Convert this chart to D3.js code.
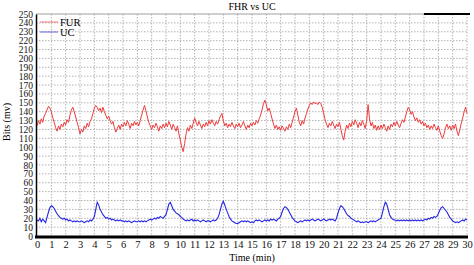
<!DOCTYPE html>
<html>
<head>
<meta charset="utf-8">
<script src="https://cdn.jsdelivr.net/npm/d3@7"></script>
<style>
  body { margin: 0; background: #fff; }
  text { font-family: "Liberation Serif", "DejaVu Serif", serif; }
</style>
</head>
<body>
<svg id="chart" width="474" height="265"></svg>
<script>
// samples every 0.1 min, 0 .. 30
let step = 0.1
let fhr = [
  124,130,126,132,128,135,138,142,146,144,
  140,133,128,122,118,124,120,126,123,128,
  125,131,128,136,142,145,140,134,128,122,
  115,120,117,124,121,127,123,129,132,138,
  144,147,145,141,144,139,145,140,136,132,
  135,130,126,129,122,117,121,125,120,126,
  123,128,124,130,126,121,127,124,129,125,
  128,124,130,136,142,147,141,134,128,124,
  120,125,122,127,123,118,124,121,126,122,
  127,123,129,125,120,126,122,118,124,115,
  108,100,95,104,115,122,118,125,121,127,
  133,128,124,129,125,121,126,123,128,124,
  130,126,131,127,124,129,126,131,135,138,
  130,124,127,122,126,123,128,124,121,126,
  123,127,122,125,129,124,120,125,122,127,
  124,128,125,130,127,132,136,142,149,153,
  148,141,144,138,132,126,121,125,120,123,
  119,124,121,118,123,120,126,122,128,134,
  140,144,136,128,124,130,126,133,138,143,
  147,150,148,151,149,150,148,151,149,145,
  138,131,126,122,127,124,129,125,121,126,
  123,128,120,113,108,118,125,121,127,123,
  129,125,131,127,122,128,124,130,126,121,
  130,148,132,124,128,121,125,119,124,120,
  125,121,126,122,118,124,120,126,123,128,
  124,129,125,122,127,131,128,134,140,145,
  142,137,140,134,130,133,128,131,126,129,
  124,127,122,125,120,124,121,126,122,119,
  124,118,113,110,115,122,126,121,124,119,
  125,121,126,118,113,120,127,133,140,145,
  138
]
let uc = [
  18,17,20,16,19,17,15,21,27,32,
  34,33,31,28,25,23,21,20,19,20,
  18,19,17,18,17,16,17,16,17,16,
  16,17,16,15,16,17,16,18,17,19,
  22,30,38,35,30,27,24,22,20,21,
  19,20,18,19,18,17,18,17,18,17,
  17,16,17,16,17,16,15,16,17,16,
  16,17,16,17,16,17,16,17,18,19,
  18,19,20,19,21,20,22,21,20,22,
  24,30,36,38,34,30,28,26,25,24,
  22,21,19,18,17,18,17,18,19,17,
  18,17,18,17,16,17,18,17,16,17,
  17,16,17,18,17,18,20,24,30,36,
  39,35,30,26,22,19,17,16,15,14,
  14,15,16,17,16,17,16,17,16,15,
  16,15,17,18,17,18,17,16,17,18,
  17,18,17,19,18,19,18,17,19,20,
  22,27,31,33,32,30,27,24,21,19,
  17,16,15,16,17,16,17,18,17,18,
  17,18,19,18,17,18,19,18,17,18,
  19,18,17,18,19,18,19,18,17,20,
  26,31,34,33,31,28,25,23,22,20,
  19,18,17,16,17,16,15,16,15,16,
  16,15,16,17,16,17,16,17,18,19,
  20,26,33,38,36,30,24,21,19,18,
  18,17,18,17,18,17,18,17,18,17,
  18,17,18,17,18,17,18,17,18,17,
  18,19,18,20,19,21,20,22,21,22,
  25,29,32,33,31,29,27,24,21,19,
  17,16,15,16,15,16,17,18,17,19,
  18
]
let xTicks = d3.range(0, 31)
let yTicks = d3.range(0, 251, 10)
let seriesNames = ['FUR', 'UC']
let seriesColors = ['#ee3b3b', '#2424e6']

let svg = d3.select('#chart')
let x = d3.scaleLinear([0, 30], [37, 467])
let y = d3.scaleLinear([0, 250], [236, 14])

// grid
svg.append('g').selectAll('line').data(xTicks.slice(1)).join('line')
  .attr('x1', d => x(d)).attr('x2', d => x(d))
  .attr('y1', y(250)).attr('y2', y(0))
  .attr('stroke', '#a0a0a0').attr('stroke-width', 0.8).attr('stroke-dasharray', '1.5,1.5')
svg.append('g').selectAll('line').data(yTicks.slice(1, -1)).join('line')
  .attr('x1', x(0) - 1).attr('x2', x(30))
  .attr('y1', d => y(d)).attr('y2', d => y(d))
  .attr('stroke', '#a0a0a0').attr('stroke-width', 0.8).attr('stroke-dasharray', '1.5,1.5')

// frame
svg.append('line').attr('x1', 36).attr('x2', 470).attr('y1', y(250)).attr('y2', y(250))
  .attr('stroke', '#888').attr('stroke-width', 0.8)
svg.append('line').attr('x1', 424).attr('x2', 470).attr('y1', y(250)).attr('y2', y(250))
  .attr('stroke', '#000').attr('stroke-width', 2)

// series
let line = d3.line().x((d, i) => x(i * step)).y(d => y(d))
svg.append('path').datum(fhr).attr('d', line)
  .attr('fill', 'none').attr('stroke', seriesColors[0]).attr('stroke-width', 1)
svg.append('path').datum(uc).attr('d', line)
  .attr('fill', 'none').attr('stroke', seriesColors[1]).attr('stroke-width', 1.1)

// axes
let yAxis = d3.axisLeft(y).tickValues(yTicks).tickSize(0).tickPadding(3)
let gy = svg.append('g').attr('transform', 'translate(36,0)').call(yAxis)
gy.select('.domain').attr('stroke', '#000').attr('stroke-width', 1.5)
gy.selectAll('text').attr('font-size', 9.5).attr('font-family', '"Liberation Serif", serif').attr('fill', '#111')

let xAxis = d3.axisBottom(x).tickValues(xTicks).tickSize(0).tickPadding(4)
let gx = svg.append('g').attr('transform', 'translate(0,237)').call(xAxis)
gx.select('.domain').attr('stroke', '#000').attr('stroke-width', 3).attr('d', 'M35,0H468')
gx.selectAll('text').attr('font-size', 10.5).attr('font-family', '"Liberation Serif", serif').attr('fill', '#111')

// titles
svg.append('text').attr('x', 252).attr('y', 10).attr('text-anchor', 'middle')
  .attr('font-size', 10).text('FHR vs UC')
svg.append('text').attr('x', 252).attr('y', 261).attr('text-anchor', 'middle')
  .attr('font-size', 10).text('Time (min)')
svg.append('text').attr('transform', 'translate(10,122) rotate(-90)').attr('text-anchor', 'middle')
  .attr('font-size', 10).text('Bits (mv)')

// legend
let legend = svg.append('g').selectAll('g').data(seriesNames).join('g')
  .attr('transform', (d, i) => `translate(40,${22 + i * 10})`)
legend.append('line').attr('x1', 0).attr('x2', 18)
  .attr('stroke', (d, i) => seriesColors[i]).attr('stroke-opacity', 0.45).attr('stroke-width', 1.5)
legend.append('text').attr('x', 20).attr('y', 3.5).attr('font-size', 10.5).text(d => d)
</script>
</body>
</html>
